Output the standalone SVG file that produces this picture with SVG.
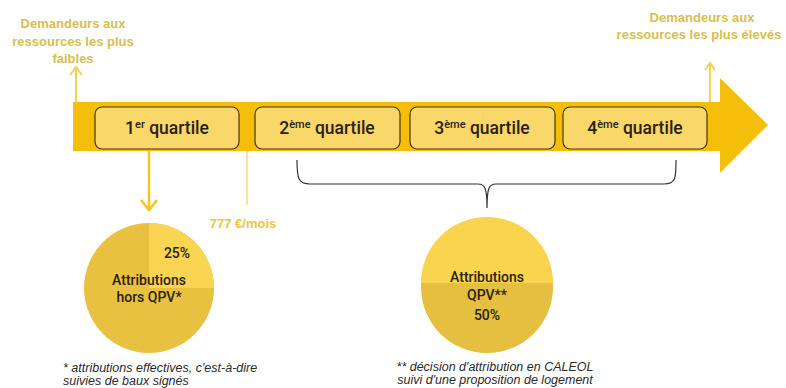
<svg xmlns="http://www.w3.org/2000/svg" width="786" height="388" viewBox="0 0 786 388">
<defs>
<style>
.box{fill:#F9D768;stroke:#4a3410;stroke-width:1.2}
.q{font-family:Roboto,"Liberation Sans",sans-serif;font-weight:500;font-size:17.5px;fill:#2b2110;text-anchor:middle}
.sup{font-size:11px}
.lbl{font-family:"Liberation Sans",Arial,sans-serif;font-weight:bold;font-size:13px;fill:#D6C04E;text-anchor:middle}
.pt{font-family:Roboto,"Liberation Sans",sans-serif;font-weight:500;font-size:14px;fill:#2b2110;text-anchor:middle}
.fn{font-family:"Liberation Sans",Arial,sans-serif;font-style:italic;font-size:12.5px;fill:#2a2a2a}
.up{fill:none;stroke:#F3D056;stroke-width:2}
</style>
</defs>
<rect width="786" height="388" fill="#ffffff"/>
<g id="timeline">
<path d="M73,102 H720 V78 L768,125 L720,173 V151 H73 Z" fill="#F5BE0A"/>
</g>
<g id="q1"><rect class="box" x="95" y="107" width="144" height="42" rx="7"/><text class="q" x="167" y="134">1<tspan class="sup" dy="-6">er</tspan><tspan dy="6"> quartile</tspan></text></g>
<g id="q2"><rect class="box" x="255" y="107" width="145" height="42" rx="7"/><text class="q" x="327" y="134">2<tspan class="sup" dy="-6">ème</tspan><tspan dy="6"> quartile</tspan></text></g>
<g id="q3"><rect class="box" x="410" y="107" width="145" height="42" rx="7"/><text class="q" x="482" y="134">3<tspan class="sup" dy="-6">ème</tspan><tspan dy="6"> quartile</tspan></text></g>
<g id="q4"><rect class="box" x="563" y="107" width="144" height="42" rx="7"/><text class="q" x="635" y="134">4<tspan class="sup" dy="-6">ème</tspan><tspan dy="6"> quartile</tspan></text></g>
<g id="label-low"><text class="lbl" x="73" y="28">Demandeurs aux</text><text class="lbl" x="73" y="46">ressources les plus</text><text class="lbl" x="73" y="63">faibles</text></g>
<g id="label-high"><text class="lbl" x="702" y="22">Demandeurs aux</text><text class="lbl" x="699" y="39">ressources les plus élevés</text></g>
<g id="label-threshold"><text class="lbl" x="243" y="228" style="fill:#EBC63E">777 €/mois</text></g>
<g id="connectors">
<line class="up" x1="76" y1="103" x2="76" y2="67"/>
<path class="up" d="M70,75 L76,67 L82,75"/>
<line class="up" x1="710" y1="102" x2="710" y2="63"/>
<path class="up" d="M705,70 L710,63 L715,70"/>
<line x1="149" y1="151" x2="149" y2="210" stroke="#F5C518" stroke-width="2.5"/>
<path d="M141,200 L149,210 L157,200" fill="none" stroke="#F5C518" stroke-width="2.5"/>
<line x1="247" y1="151" x2="247" y2="205" stroke="#F6DC7A" stroke-width="1.5"/>
<path d="M297,160 C297,178 298,184 310,184 H478 C485,184 487,188 487,208 C487,188 489,184 496,184 H664 C676,184 676,178 676,160" fill="none" stroke="#333" stroke-width="1.2"/>
</g>
<g id="pie1">
<circle cx="149" cy="288" r="65" fill="#E9C140"/>
<path d="M149,288 V223 A65,65 0 0 1 214,288 Z" fill="#F9D553"/>
<text class="pt" x="177" y="258">25%</text>
<text class="pt" x="149" y="285">Attributions</text>
<text class="pt" x="149" y="302">hors QPV*</text>
</g>
<g id="pie2">
<circle cx="487" cy="287" r="66" fill="#E5BF3F"/>
<path d="M421,283 A66,66 0 0 1 553,283 Z" fill="#F8D54C"/>
<text class="pt" x="487" y="282">Attributions</text>
<text class="pt" x="487" y="300">QPV**</text>
<text class="pt" x="487" y="320">50%</text>
</g>
<g id="notes">
<text class="fn" x="63" y="372">* attributions effectives, c'est-à-dire</text>
<text class="fn" x="63" y="385">suivies de baux signés</text>
<text class="fn" x="495" y="371" text-anchor="middle">** décision d'attribution en CALEOL</text>
<text class="fn" x="495" y="384" text-anchor="middle">suivi d'une proposition de logement</text>
</g>
</svg>
